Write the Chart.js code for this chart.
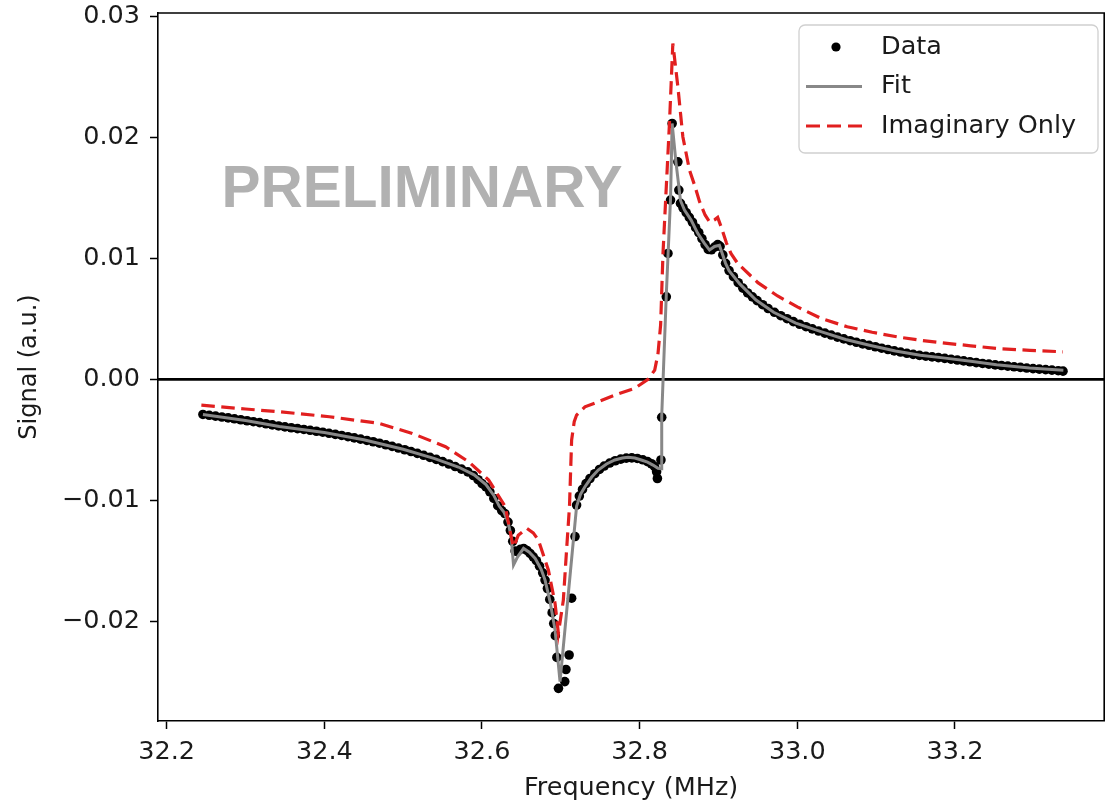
<!DOCTYPE html>
<html><head><meta charset="utf-8">
<script src="https://cdn.jsdelivr.net/npm/chart.js@4.4.1/dist/chart.umd.min.js"></script>
<style>html,body{margin:0;padding:0;background:#fff;overflow:hidden}#wrap{width:1109px;height:804px}</style>
</head><body><div id="wrap"><canvas id="c" width="1109" height="804"></canvas></div>
<script>
// ---- Data ----
const dataFreq = [32.246,32.254,32.262,32.270,32.278,32.286,32.294,32.302,32.310,32.318,32.326,32.334,32.342,32.350,32.358,32.366,32.374,32.382,32.390,32.398,32.406,32.414,32.422,32.430,32.438,32.446,32.454,32.462,32.470,32.478,32.486,32.494,32.502,32.510,32.518,32.526,32.534,32.542,32.550,32.558,32.566,32.574,32.582,32.589,32.595,32.600,32.605,32.610,32.615,32.620,32.625,32.629,32.633,32.636,32.639,32.642,32.645,32.649,32.653,32.657,32.661,32.665,32.669,32.673,32.677,32.680,32.683,32.686,32.689,32.691,32.693,32.695,32.697,32.705,32.7065,32.7105,32.7137,32.718,32.720,32.7235,32.7275,32.732,32.737,32.743,32.749,32.755,32.762,32.769,32.776,32.783,32.790,32.797,32.804,32.810,32.815,32.819,32.8215,32.8225,32.827,32.828,32.8338,32.8359,32.8392,32.8412,32.8485,32.8497,32.8518,32.855,32.859,32.863,32.867,32.871,32.875,32.879,32.883,32.887,32.891,32.895,32.899,32.902,32.9055,32.909,32.9134,32.919,32.925,32.931,32.937,32.943,32.949,32.956,32.963,32.971,32.979,32.987,32.995,33.003,33.011,33.019,33.027,33.035,33.043,33.051,33.059,33.067,33.075,33.083,33.091,33.099,33.107,33.115,33.123,33.131,33.139,33.147,33.155,33.163,33.171,33.179,33.187,33.195,33.203,33.211,33.219,33.227,33.235,33.243,33.251,33.259,33.267,33.275,33.283,33.291,33.299,33.307,33.315,33.323,33.331,33.337];
const dataSignal = [-0.00290,-0.00297,-0.00304,-0.00311,-0.00318,-0.00326,-0.00334,-0.00342,-0.00350,-0.00358,-0.00367,-0.00376,-0.00385,-0.00393,-0.00400,-0.00407,-0.00414,-0.00421,-0.00429,-0.00437,-0.00446,-0.00455,-0.00464,-0.00474,-0.00484,-0.00494,-0.00505,-0.00516,-0.00528,-0.00541,-0.00554,-0.00568,-0.00582,-0.00597,-0.00612,-0.00628,-0.00645,-0.00662,-0.00680,-0.00700,-0.00721,-0.00742,-0.00765,-0.00795,-0.00830,-0.00862,-0.00890,-0.00930,-0.00985,-0.01045,-0.01085,-0.01110,-0.01180,-0.01250,-0.01340,-0.01420,-0.01425,-0.01405,-0.01400,-0.01415,-0.01440,-0.01468,-0.01500,-0.01545,-0.01600,-0.01660,-0.01730,-0.01820,-0.01930,-0.02020,-0.02120,-0.02300,-0.02556,-0.02500,-0.02400,-0.02280,-0.01810,-0.01300,-0.01040,-0.00965,-0.00910,-0.00862,-0.00820,-0.00780,-0.00745,-0.00717,-0.00692,-0.00673,-0.00660,-0.00651,-0.00649,-0.00654,-0.00665,-0.00680,-0.00698,-0.00722,-0.00765,-0.00820,-0.00667,-0.00314,0.00683,0.01042,0.01483,0.02117,0.01800,0.01566,0.01456,0.01420,0.01380,0.01340,0.01300,0.01255,0.01215,0.01165,0.01115,0.01075,0.01072,0.01095,0.01115,0.01100,0.01030,0.00960,0.00900,0.00850,0.00800,0.00755,0.00715,0.00683,0.00652,0.00618,0.00586,0.00555,0.00527,0.00502,0.00478,0.00456,0.00436,0.00418,0.00400,0.00383,0.00367,0.00350,0.00335,0.00320,0.00307,0.00294,0.00282,0.00270,0.00258,0.00247,0.00236,0.00226,0.00216,0.00207,0.00199,0.00192,0.00186,0.00180,0.00174,0.00167,0.00160,0.00153,0.00146,0.00139,0.00132,0.00126,0.00120,0.00115,0.00110,0.00104,0.00099,0.00094,0.00089,0.00085,0.00081,0.00077,0.00072,0.00068];

const fitFreq = [32.246,32.300,32.343,32.400,32.450,32.500,32.540,32.570,32.590,32.605,32.615,32.622,32.628,32.633,32.637,32.640,32.645,32.6527,32.660,32.6675,32.675,32.680,32.6864,32.6927,32.699,32.720,32.725,32.7306,32.739,32.7474,32.758,32.7685,32.778,32.7853,32.794,32.8021,32.810,32.8169,32.8233,32.8272,32.828,32.8338,32.8392,32.8412,32.846,32.8518,32.8569,32.8653,32.8737,32.8822,32.8886,32.895,32.9012,32.909,32.9134,32.927,32.9476,32.970,32.9981,33.030,33.0613,33.093,33.1245,33.156,33.1876,33.220,33.2528,33.2945,33.3375];
const fitSignal = [-0.00290,-0.00340,-0.00390,-0.00440,-0.00500,-0.00578,-0.00655,-0.00725,-0.00790,-0.00870,-0.00960,-0.01050,-0.01100,-0.01180,-0.01300,-0.01536,-0.01470,-0.01398,-0.01430,-0.01481,-0.01570,-0.01660,-0.01840,-0.02074,-0.02500,-0.01050,-0.00950,-0.00888,-0.00810,-0.00750,-0.00700,-0.00667,-0.00650,-0.00645,-0.00650,-0.00667,-0.00685,-0.00709,-0.00736,-0.00740,-0.00300,0.00700,0.01500,0.02117,0.01800,0.01480,0.01400,0.01318,0.01208,0.01125,0.01070,0.01100,0.01110,0.00960,0.00900,0.00790,0.00656,0.00555,0.00466,0.00395,0.00330,0.00280,0.00235,0.00200,0.00176,0.00150,0.00122,0.00095,0.00075];

const imagFreq = [32.244,32.300,32.343,32.4065,32.4695,32.5116,32.5538,32.5832,32.6085,32.6296,32.6379,32.6401,32.646,32.6569,32.665,32.6716,32.6842,32.6927,32.6969,32.7032,32.7074,32.711,32.7137,32.717,32.720,32.7306,32.7474,32.7685,32.7938,32.8106,32.8191,32.8233,32.8266,32.8296,32.8338,32.838,32.8421,32.8485,32.8548,32.8632,32.870,32.876,32.883,32.889,32.895,32.899,32.904,32.910,32.916,32.9243,32.950,32.975,33.000,33.030,33.0633,33.095,33.1265,33.158,33.190,33.220,33.2528,33.295,33.337];
const imagSignal = [-0.00213,-0.00245,-0.00268,-0.00309,-0.00364,-0.00447,-0.00557,-0.00682,-0.00833,-0.01054,-0.01330,-0.01385,-0.01290,-0.01232,-0.01270,-0.01330,-0.01577,-0.01853,-0.02100,-0.01826,-0.01400,-0.01050,-0.00502,-0.00350,-0.00295,-0.00227,-0.00185,-0.00130,-0.00074,0.00000,0.00077,0.00215,0.00450,0.01042,0.01593,0.02145,0.02779,0.02420,0.02007,0.01731,0.01600,0.01470,0.01360,0.01300,0.01320,0.01340,0.01250,0.01130,0.01040,0.00960,0.00800,0.00690,0.00600,0.00505,0.00435,0.00390,0.00352,0.00322,0.00298,0.00278,0.00256,0.00240,0.00228];

const xTickValues = [32.2, 32.4, 32.6, 32.8, 33.0, 33.2];
const xTickLabels = ['32.2', '32.4', '32.6', '32.8', '33.0', '33.2'];
const yTickValues = [-0.02, -0.01, 0.00, 0.01, 0.02, 0.03];
const yTickLabels = ['\u22120.02', '\u22120.01', '0.00', '0.01', '0.02', '0.03'];
const seriesNames = ['Data', 'Fit', 'Imaginary Only'];

const X_MIN = 32.189, X_MAX = 33.3893;
const Y_MIN = -0.02826, Y_MAX = 0.03031;

const FONT = "'DejaVu Sans', sans-serif";
const FS = 25.5;
const TXT = '#1a1a1a';
const FIT_COLOR = '#888888';
const IMAG_COLOR = '#e11f1f';

const pts = (xs, ys) => xs.map((x, i) => ({x: x, y: ys[i]}));

const framePlugin = {
  id: 'frame',
  afterDraw(chart) {
    const {ctx, chartArea: a} = chart;
    ctx.save();
    ctx.strokeStyle = '#000';
    ctx.lineWidth = 1.6;
    ctx.beginPath();
    ctx.moveTo(a.left, a.top); ctx.lineTo(a.right, a.top); ctx.lineTo(a.right, a.bottom);
    ctx.stroke();
    // watermark text
    ctx.fillStyle = '#b1b1b1';
    ctx.font = "bold 58.5px 'Liberation Sans', Arial, sans-serif";
    ctx.textAlign = 'center';
    ctx.textBaseline = 'middle';
    ctx.fillText('PRELIMINARY', 422, 191);
    // legend
    const bx = 799, by = 25, bw = 299, bh = 128, r = 6;
    ctx.beginPath();
    ctx.moveTo(bx + r, by); ctx.lineTo(bx + bw - r, by); ctx.arcTo(bx + bw, by, bx + bw, by + r, r);
    ctx.lineTo(bx + bw, by + bh - r); ctx.arcTo(bx + bw, by + bh, bx + bw - r, by + bh, r);
    ctx.lineTo(bx + r, by + bh); ctx.arcTo(bx, by + bh, bx, by + bh - r, r);
    ctx.lineTo(bx, by + r); ctx.arcTo(bx, by, bx + r, by, r);
    ctx.closePath();
    ctx.fillStyle = 'rgba(255,255,255,0.85)';
    ctx.fill();
    ctx.strokeStyle = '#d0d0d0';
    ctx.lineWidth = 1.3;
    ctx.stroke();
    const rows = [47, 86.5, 126];
    ctx.fillStyle = '#000';
    ctx.beginPath(); ctx.arc(836, rows[0], 4.6, 0, Math.PI * 2); ctx.fill();
    ctx.strokeStyle = FIT_COLOR; ctx.lineWidth = 3;
    ctx.beginPath(); ctx.moveTo(806, rows[1]); ctx.lineTo(862, rows[1]); ctx.stroke();
    ctx.strokeStyle = IMAG_COLOR; ctx.lineWidth = 3.2; ctx.setLineDash([14, 7]);
    ctx.beginPath(); ctx.moveTo(806, rows[2]); ctx.lineTo(862, rows[2]); ctx.stroke();
    ctx.setLineDash([]);
    ctx.fillStyle = TXT;
    ctx.font = FS + 'px ' + FONT;
    ctx.textAlign = 'left';
    ctx.textBaseline = 'middle';
    seriesNames.forEach((n, i) => ctx.fillText(n, 881, rows[i]));
    ctx.restore();
  }
};

new Chart(document.getElementById('c'), {
  data: {
    datasets: [
      {type: 'scatter', label: seriesNames[0], data: pts(dataFreq, dataSignal),
       pointRadius: 4.8, pointBackgroundColor: '#000', pointBorderWidth: 0, order: 4},
      {type: 'line', label: seriesNames[1], data: pts(fitFreq, fitSignal),
       borderColor: FIT_COLOR, borderWidth: 3, pointRadius: 0, tension: 0, order: 3},
      {type: 'line', label: seriesNames[2], data: pts(imagFreq, imagSignal),
       borderColor: IMAG_COLOR, borderWidth: 3.2, borderDash: [13.5, 6.5], pointRadius: 0, tension: 0, order: 2},
      {type: 'line', label: 'zero', data: [{x: X_MIN, y: 0}, {x: X_MAX, y: 0}],
       borderColor: '#000', borderWidth: 2.6, pointRadius: 0, order: 5}
    ]
  },
  options: {
    responsive: false,
    animation: false,
    events: [],
    layout: {padding: {left: 0, top: 13, right: 1, bottom: 0}},
    plugins: {legend: {display: false}, tooltip: {enabled: false}},
    scales: {
      x: {
        type: 'linear', position: 'bottom', min: X_MIN, max: X_MAX,
        afterBuildTicks: s => { s.ticks = xTickValues.map(v => ({value: v})); },
        afterFit: s => { s.height = 83; s.paddingLeft = 0; s.paddingRight = 0; },
        ticks: {callback: (v) => xTickLabels[xTickValues.findIndex(t => Math.abs(t - v) < 1e-9)],
                font: {family: FONT, size: FS}, color: TXT, padding: 8, maxRotation: 0, autoSkip: false},
        grid: {drawOnChartArea: false, drawTicks: true, tickLength: 8, tickColor: '#000', tickWidth: 1.5},
        border: {display: true, color: '#000', width: 1.6},
        title: {display: true, text: 'Frequency (MHz)', font: {family: FONT, size: FS}, color: TXT, padding: {top: 0, bottom: 0}}
      },
      y: {
        type: 'linear', position: 'left', min: Y_MIN, max: Y_MAX,
        afterBuildTicks: s => { s.ticks = yTickValues.map(v => ({value: v})); },
        afterFit: s => { s.width = 158; s.paddingTop = 0; s.paddingBottom = 0; },
        ticks: {callback: (v) => yTickLabels[yTickValues.findIndex(t => Math.abs(t - v) < 1e-9)],
                font: {family: FONT, size: FS}, color: TXT, padding: 10, autoSkip: false},
        grid: {drawOnChartArea: false, drawTicks: true, tickLength: 8, tickColor: '#000', tickWidth: 1.5},
        border: {display: true, color: '#000', width: 1.6},
        title: {display: true, text: 'Signal (a.u.)', font: {family: FONT, size: 24}, color: TXT, padding: {top: 15, bottom: 0}}
      }
    }
  },
  plugins: [framePlugin]
});
</script>
</body></html>
